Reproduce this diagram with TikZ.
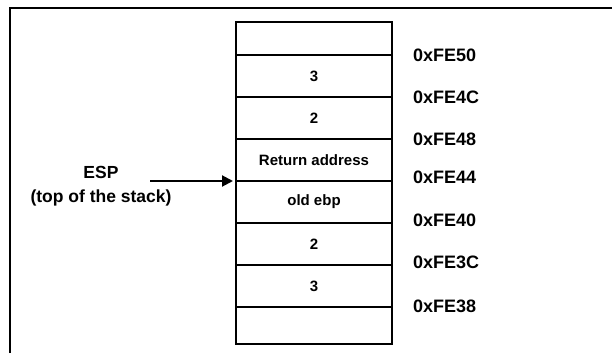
\documentclass[tikz,border=0pt]{standalone}
\usepackage{fontspec}
\setmainfont{Liberation Sans}
\usetikzlibrary{arrows.meta, positioning}

\begin{document}
\begin{tikzpicture}[
    x=1pt, y=-1pt,
    node distance=0pt,
    cell/.style={rectangle, draw=black, line width=2.4pt, minimum width=156pt, minimum height=42pt,
                 inner sep=0pt, outer sep=0pt, text centered, font=\fontsize{15}{18}\selectfont\bfseries},
    addr/.style={inner sep=0pt, font=\fontsize{18}{21}\selectfont\bfseries},
    arr/.style={-{Triangle[length=11pt, width=11pt]}, line width=2pt},
]
\useasboundingbox (0,0) rectangle (612,353);

% Frame
\draw[line width=2.6pt] (10,353) -- (10,8) -- (612,8);

% Stack cells
\node[cell, minimum height=33pt, anchor=north west] (top) at (236,22) {};
\node[cell, below=of top] (s3) {3};
\node[cell, below=of s3] (s2) {2};
\node[cell, below=of s2] (ret) {Return address};
\node[cell, below=of ret] (ebp) {old ebp};
\node[cell, below=of ebp] (a2) {2};
\node[cell, below=of a2] (a3) {3};
\node[cell, minimum height=37pt, below=of a3] (bot) {};

% Addresses
\node[addr, right=21pt of top.south east] (fe50) {0xFE50};
\node[addr, right=21pt of s3.south east] (fe4c) {0xFE4C};
\node[addr, right=21pt of s2.south east] (fe48) {0xFE48};
\node[addr, right=21pt of ret.south east, yshift=4pt] (fe44) {0xFE44};
\node[addr, right=21pt of ebp.south east, yshift=3pt] (fe40) {0xFE40};
\node[addr, right=21pt of a2.south east, yshift=3pt] (fe3c) {0xFE3C};
\node[addr, right=21pt of a3.south east, yshift=1pt] (fe38) {0xFE38};

% Stack pointer
\node[align=center, font=\fontsize{17.5}{24}\selectfont\bfseries] (esp) at (101,186) {ESP\\(top of the stack)};
\coordinate[left=86pt of ret.south west] (espfrom);
\draw[arr] (espfrom) -- ([xshift=-3pt]ret.south west);

\end{tikzpicture}
\end{document}
